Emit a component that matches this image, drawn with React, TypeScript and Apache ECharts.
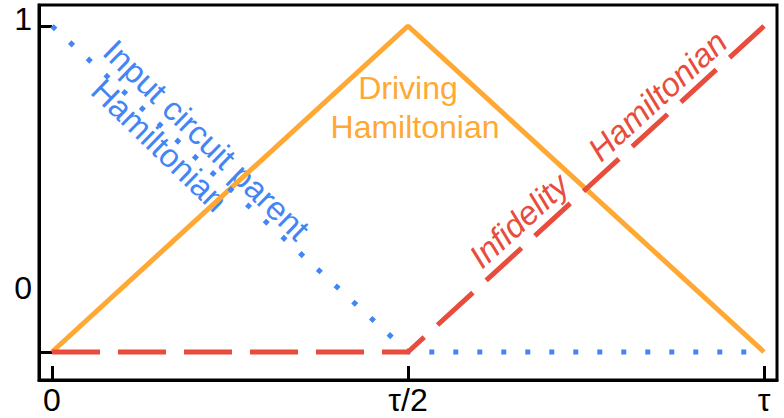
import React, { useEffect, useRef } from "react";
import * as echarts from "echarts";

// data
const tValues = [0, 0.5, 1];
const driving = [0, 1, 0];
const inputCircuit = [1, 0, 0];
const infidelity = [0, 0, 1];

const xTickValues = [0, 0.5, 1];
const xTickLabels = ["0", "τ/2", "τ"];
const yTickValues = [0, 1];
const yLabelValues = [0.195, 1.02];
const yTickLabels = ["0", "1"];

const FONT = "Liberation Sans, Arial, sans-serif";

function rotText(
  text: string,
  bx: number,
  by: number,
  deg: number,
  fs: number,
  fill: string,
  italic = false
) {
  const th = (deg * Math.PI) / 180;
  const up = [Math.sin(th), -Math.cos(th)];
  const k = 0.3465 * fs;
  return {
    type: "text",
    x: bx + up[0] * k,
    y: by + up[1] * k,
    rotation: -th,
    silent: true,
    style: {
      text,
      fill,
      font: `${italic ? "italic " : ""}${fs}px ${FONT}`,
      align: "left",
      verticalAlign: "middle",
    },
  };
}

export default function App() {
  const ref = useRef<HTMLDivElement>(null);
  useEffect(() => {
    if (!ref.current) return;
    document.body.style.margin = "0";
    const chart = echarts.init(ref.current, undefined, { renderer: "svg" });
    const blue = "#4285F4";
    const orange = "#FFA834";
    const red = "#E84C3D";
    chart.setOption({
      animation: false,
      grid: {
        left: 39,
        right: 7,
        top: 5,
        bottom: 38,
        show: true,
        borderColor: "#000",
        borderWidth: 3,
      },
      xAxis: {
        type: "value",
        min: -0.01826,
        max: 1.01826,
        splitLine: { show: false },
        axisLine: { show: true, onZero: false, lineStyle: { color: "#000", width: 3 } },
        axisTick: {
          show: true,
          inside: true,
          length: 14,
          customValues: xTickValues,
          lineStyle: { color: "#000", width: 3 },
        },
        axisLabel: {
          customValues: xTickValues,
          formatter: (v: number) => {
            const i = xTickValues.findIndex((x) => Math.abs(x - v) < 1e-6);
            return i >= 0 ? xTickLabels[i] : "";
          },
          color: "#000",
          fontSize: 32,
          fontFamily: FONT,
          margin: 4,
        },
      },
      yAxis: {
        type: "value",
        min: -0.0859,
        max: 1.0644,
        splitLine: { show: false },
        axisLine: { show: true, onZero: false, lineStyle: { color: "#000", width: 3 } },
        axisTick: {
          show: true,
          inside: true,
          length: 13,
          customValues: yTickValues,
          lineStyle: { color: "#000", width: 3 },
        },
        axisLabel: {
          customValues: yLabelValues,
          formatter: (v: number) => {
            const i = yLabelValues.findIndex((x) => Math.abs(x - v) < 1e-6);
            return i >= 0 ? yTickLabels[i] : "";
          },
          color: "#000",
          fontSize: 32,
          fontFamily: FONT,
          margin: 7,
        },
      },
      series: [
        {
          type: "line",
          data: tValues.map((t, i) => [t, driving[i]]),
          showSymbol: false,
          lineStyle: { color: orange, width: 5 },
          z: 2,
        },
        {
          type: "line",
          data: tValues.map((t, i) => [t, inputCircuit[i]]),
          showSymbol: false,
          lineStyle: { color: blue, width: 5, type: [5, 19], cap: "butt" },
          z: 3,
        },
        {
          type: "line",
          data: tValues.map((t, i) => [t, infidelity[i]]),
          showSymbol: false,
          lineStyle: { color: red, width: 5, type: [48, 18], cap: "butt" },
          z: 4,
        },
      ],
      graphic: [
        {
          type: "text",
          x: 408,
          y: 88,
          silent: true,
          style: {
            text: "Driving",
            fill: orange,
            font: `32px ${FONT}`,
            align: "center",
            verticalAlign: "middle",
          },
        },
        {
          type: "text",
          x: 415,
          y: 127,
          silent: true,
          style: {
            text: "Hamiltonian",
            fill: orange,
            font: `32px ${FONT}`,
            align: "center",
            verticalAlign: "middle",
          },
        },
        rotText("Input circuit parent", 101, 54, 44, 33, blue),
        rotText("Hamiltonian", 89, 93, 44, 33, blue),
        rotText("Infidelity", 482, 270, -42.5, 33, red, true),
        rotText("Hamiltonian", 601, 163, -42.5, 33, red, true),
      ],
    });
    return () => chart.dispose();
  }, []);
  return (
    <div
      ref={ref}
      style={{ position: "absolute", left: 0, top: 0, width: 784, height: 418 }}
    />
  );
}
